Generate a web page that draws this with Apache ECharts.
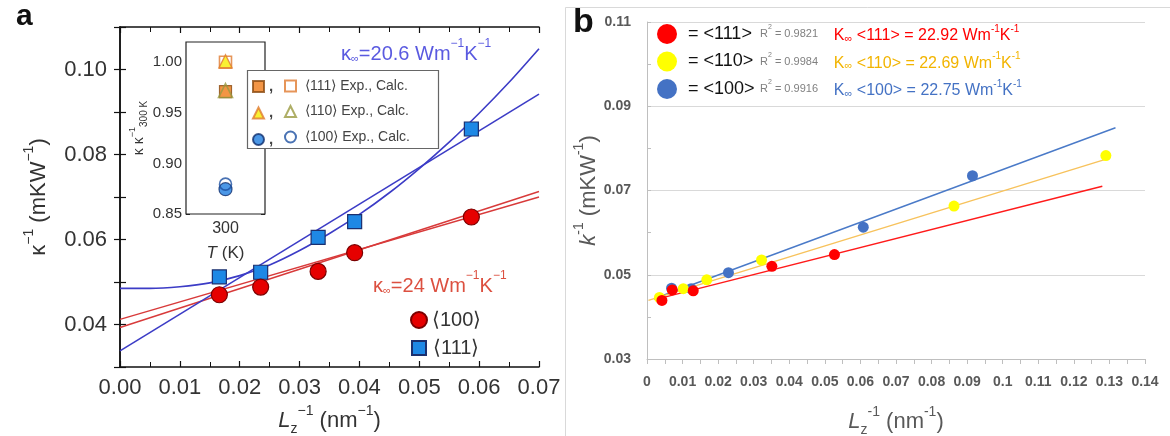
<!DOCTYPE html>
<html><head><meta charset="utf-8">
<script src="https://cdn.jsdelivr.net/npm/echarts@6/dist/echarts.min.js"></script>
<style>html,body{margin:0;padding:0;background:#fff}#c{width:1170px;height:436px}</style>
</head><body><div id="c"></div>
<script>
// ---------- Panel a data ----------
const aX = [0.0166, 0.0235, 0.0331, 0.0392, 0.0587];
const a100Y = [0.0470, 0.0488, 0.0525, 0.0569, 0.0653];
const a111Y = [0.0512, 0.0523, 0.0605, 0.0642, 0.0860];
const aRedFitA = [[0, 0.0412], [0.07, 0.0700]];
const aRedFitB = [[0, 0.0393], [0.07, 0.0713]];
const aBlueLine = [[0, 0.0338], [0.07, 0.0942]];
const aBlueCurveX = [0, 0.005, 0.010, 0.015, 0.020, 0.025, 0.030, 0.035, 0.040, 0.045, 0.050, 0.055, 0.060, 0.065, 0.070];
const aBlueCurveY = [0.0485, 0.0485, 0.0489, 0.0498, 0.0515, 0.0540, 0.0574, 0.0614, 0.0659, 0.0710, 0.0767, 0.0829, 0.0897, 0.0970, 0.1049];
const aXTicks = [0, 0.07, 0.01];      // min, max, interval
const aYTicks = [0.03, 0.11, 0.01];

// ---------- Inset data ----------
const insetCats = ['300'];
const in111Exp = [0.971];
const in111Calc = [1.000];
const in110Exp = [1.001];
const in110Calc = [0.972];
const in100Exp = [0.8745];
const in100Calc = [0.8795];
const insetYTicks = [0.85, 1.02, 0.05];

// ---------- Panel b data ----------
const b111X = [0.0042, 0.0071, 0.0130, 0.0351, 0.0527];
const b111Y = [0.0439, 0.0464, 0.0462, 0.0520, 0.0548];
const b110X = [0.0035, 0.0102, 0.0168, 0.0322, 0.0863, 0.1290];
const b110Y = [0.0446, 0.0467, 0.0488, 0.0535, 0.0663, 0.0783];
const b100X = [0.0069, 0.0124, 0.0229, 0.0608, 0.0915];
const b100Y = [0.0468, 0.0467, 0.0505, 0.0613, 0.0735];
const b111Fit = [[0.0022, 0.0441], [0.128, 0.0710]];
const b110Fit = [[0.0004, 0.0439], [0.130, 0.0777]];
const b100Fit = [[0.0020, 0.0443], [0.1317, 0.0849]];
const bR2 = {b111: '0.9821', b110: '0.9984', b100: '0.9916'};
const bKinf = {b111: '22.92', b110: '22.69', b100: '22.75'};
const bXTicks = [0, 0.14, 0.01];
const bYTicks = [0.03, 0.11, 0.01];

const zip = (xs, ys) => xs.map((x, i) => [x, ys[i]]);
const FA = "'Liberation Sans', Arial, sans-serif";
const FB = "'Liberation Sans', Arial, sans-serif";
const near = (v, step) => Math.abs(v / step - Math.round(v / step)) < 1e-6;

const chart = echarts.init(document.getElementById('c'), null, {width: 1170, height: 436});

const axA = '#111';
const tickA = {show: true, inside: true, length: 6, lineStyle: {color: axA, width: 1.2}};

const richA = {
  t: {fontSize: 22, fontFamily: FA, color: '#333', lineHeight: 28, verticalAlign: 'bottom'},
  i: {fontSize: 22, fontFamily: FA, color: '#333', fontStyle: 'italic', lineHeight: 28, verticalAlign: 'bottom'},
  u: {fontSize: 14, fontFamily: FA, color: '#333', lineHeight: 14, verticalAlign: 'top'},
  s: {fontSize: 14, fontFamily: FA, color: '#333', lineHeight: 14, verticalAlign: 'bottom', padding: [0, 0, -4, 0]}
};
const richIn = {
  t: {fontSize: 14, fontFamily: FA, color: '#333', lineHeight: 18, verticalAlign: 'bottom'},
  i: {fontSize: 17, fontFamily: FA, color: '#333', fontStyle: 'italic', lineHeight: 20},
  r: {fontSize: 17, fontFamily: FA, color: '#333', lineHeight: 20},
  u: {fontSize: 9, fontFamily: FA, color: '#333', lineHeight: 9, verticalAlign: 'top'},
  s: {fontSize: 10, fontFamily: FA, color: '#333', lineHeight: 10, verticalAlign: 'bottom', padding: [0, 0, -3, 0]}
};
const richB = {
  t: {fontSize: 22, fontFamily: FA, color: '#595959', lineHeight: 28, verticalAlign: 'bottom'},
  i: {fontSize: 22, fontFamily: FA, color: '#595959', fontStyle: 'italic', lineHeight: 28, verticalAlign: 'bottom'},
  u: {fontSize: 14, fontFamily: FA, color: '#595959', lineHeight: 14, verticalAlign: 'top'},
  s: {fontSize: 14, fontFamily: FA, color: '#595959', lineHeight: 14, verticalAlign: 'bottom', padding: [0, 0, -4, 0]}
};

const bColors = {b111: '#ff0000', b110: '#f2b400', b100: '#4472c4'};
const bRich = {
  n: {fontSize: 18, fontFamily: FA, color: '#111', width: 72, padding: [0, 0, 0, 6], lineHeight: 20},
  r: {fontSize: 11, fontFamily: FA, color: '#808080', lineHeight: 20},
  r2: {fontSize: 11, fontFamily: FA, color: '#808080', lineHeight: 20, width: 62},
  ru: {fontSize: 7, fontFamily: FA, color: '#808080', verticalAlign: 'top', lineHeight: 12}
};
['b111', 'b110', 'b100'].forEach(k => {
  bRich['k' + k] = {fontSize: 16, fontFamily: FB, color: bColors[k], lineHeight: 20, verticalAlign: 'bottom'};
  bRich['s' + k] = {fontSize: 11, fontFamily: FB, color: bColors[k], lineHeight: 11, verticalAlign: 'bottom'};
  bRich['u' + k] = {fontSize: 10, fontFamily: FB, color: bColors[k], lineHeight: 10, verticalAlign: 'top'};
});
const bLabel = {b111: '<111>', b110: '<110>', b100: '<100>'};
const GB = {outerBoundsMode: 'none', containLabel: false};

const option = {
  animation: false,
  backgroundColor: '#fff',
  grid: [
    Object.assign({left: 120, top: 27, width: 419, height: 340, show: false}, GB),
    Object.assign({left: 186, top: 42, width: 79, height: 172, show: true, borderColor: '#222', borderWidth: 1.2, backgroundColor: '#fff', z: 1}, GB),
    Object.assign({left: 647, top: 22, width: 498, height: 337, show: false}, GB)
  ],
  xAxis: [
    {gridIndex: 0, type: 'value', min: aXTicks[0], max: aXTicks[1], interval: aXTicks[2],
     axisLine: {lineStyle: {color: axA, width: 1.5}}, axisTick: tickA,
     minorTick: {show: true, splitNumber: 2, length: 5, lineStyle: {color: axA, width: 1}},
     splitLine: {show: false},
     axisLabel: {fontSize: 22, fontFamily: FA, color: '#333', margin: 10, formatter: v => v.toFixed(2)},
     name: '{i|L}{s|z}{u|−1}{t| (nm}{u|−1}{t|)}', nameLocation: 'middle', nameGap: 37,
     nameTextStyle: {rich: richA}},
    {gridIndex: 0, type: 'value', position: 'top', min: aXTicks[0], max: aXTicks[1], interval: aXTicks[2],
     axisLine: {lineStyle: {color: axA, width: 1.5}}, axisTick: tickA,
     minorTick: {show: true, splitNumber: 2, length: 5, lineStyle: {color: axA, width: 1}},
     splitLine: {show: false}, axisLabel: {show: false}},
    {gridIndex: 1, type: 'category', data: insetCats, boundaryGap: true,
     axisLine: {show: false}, axisTick: {show: true, inside: true, alignWithLabel: true, length: 4, lineStyle: {color: '#222'}},
     axisLabel: {fontSize: 16, fontFamily: FA, color: '#333', margin: 7},
     name: '{i|T}{r| (K)}', nameLocation: 'middle', nameGap: 29, nameTextStyle: {rich: richIn}},
    {gridIndex: 1, type: 'category', data: insetCats, boundaryGap: true, position: 'top',
     axisLine: {show: false}, axisTick: {show: true, inside: true, alignWithLabel: true, length: 4, lineStyle: {color: '#222'}},
     axisLabel: {show: false}},
    {gridIndex: 2, type: 'value', min: bXTicks[0], max: bXTicks[1], interval: bXTicks[2],
     axisLine: {lineStyle: {color: '#bfbfbf', width: 1}},
     axisTick: {show: true, inside: false, length: 5, lineStyle: {color: '#bfbfbf'}},
     minorTick: {show: true, splitNumber: 2, length: 5, lineStyle: {color: '#bfbfbf'}},
     splitLine: {show: false},
     axisLabel: {fontSize: 14, fontWeight: 'bold', fontFamily: FA, color: '#595959', margin: 16,
                 formatter: v => String(parseFloat(v.toFixed(2)))},
     name: '{i|L}{s|z}{u|-1}{t| (nm}{u|-1}{t|)}', nameLocation: 'middle', nameGap: 46,
     nameTextStyle: {rich: richB}}
  ],
  yAxis: [
    {gridIndex: 0, type: 'value', min: aYTicks[0], max: aYTicks[1], interval: aYTicks[2],
     axisLine: {show: true, lineStyle: {color: axA, width: 1.5}}, axisTick: tickA, splitLine: {show: false},
     axisLabel: {fontSize: 22, fontFamily: FA, color: '#333', margin: 13,
                 formatter: v => near(v, 0.02) ? v.toFixed(2) : ''},
     name: '{t|κ}{u|−1}{t| (mKW}{u|−1}{t|)}', nameLocation: 'middle', nameGap: 70, nameRotate: 90,
     nameTextStyle: {rich: richA}},
    {gridIndex: 0, type: 'value', position: 'right', min: aYTicks[0], max: aYTicks[1], interval: aYTicks[2],
     axisLine: {show: true, lineStyle: {color: axA, width: 1.5}}, axisTick: tickA, splitLine: {show: false},
     axisLabel: {show: false}},
    {gridIndex: 1, type: 'value', min: insetYTicks[0], max: insetYTicks[1], interval: insetYTicks[2],
     axisLine: {show: false}, axisTick: {show: true, inside: true, length: 4, lineStyle: {color: '#222'}},
     splitLine: {show: false},
     axisLabel: {fontSize: 15, fontFamily: FA, color: '#333', margin: 4,
                 formatter: v => near(v, 0.05) ? v.toFixed(2) : ''},
     name: '{t|κ κ}{u|−1}{s|300 K}', nameLocation: 'middle', nameGap: 36, nameRotate: 90,
     nameTextStyle: {rich: richIn}},
    {gridIndex: 1, type: 'value', position: 'right', min: insetYTicks[0], max: insetYTicks[1], interval: insetYTicks[2],
     axisLine: {show: false}, axisTick: {show: true, inside: true, length: 4, lineStyle: {color: '#222'}},
     splitLine: {show: false}, axisLabel: {show: false}},
    {gridIndex: 2, type: 'value', min: bYTicks[0], max: bYTicks[1], interval: bYTicks[2],
     axisLine: {show: true, lineStyle: {color: '#bfbfbf', width: 1}},
     axisTick: {show: true, inside: true, length: 4, lineStyle: {color: '#bfbfbf'}},
     splitLine: {show: true, lineStyle: {color: ['#d9d9d9', 'rgba(0,0,0,0)'], width: 1}},
     axisLabel: {fontSize: 14, fontWeight: 'bold', fontFamily: FA, color: '#595959', margin: 16,
                 formatter: v => near(v - 0.01, 0.02) ? String(parseFloat(v.toFixed(2))) : ''},
     name: '{i|k}{u|-1}{t| (mKW}{u|-1}{t|)}', nameLocation: 'middle', nameGap: 44, nameRotate: 90,
     nameTextStyle: {rich: richB}}
  ],
  legend: [
    {left: 410, top: 310, padding: 0, orient: 'vertical', itemWidth: 16, itemHeight: 16, selectedMode: false,
     data: [{name: 'a100', icon: 'circle'}], formatter: () => '⟨100⟩',
     textStyle: {fontSize: 20, fontFamily: FA, color: '#333', lineHeight: 16}},
    {left: 411, top: 338, padding: 0, orient: 'vertical', itemWidth: 14, itemHeight: 14, selectedMode: false,
     data: [{name: 'a111', icon: 'rect'}], formatter: () => '⟨111⟩',
     textStyle: {fontSize: 20, fontFamily: FA, color: '#333', lineHeight: 14, padding: [0, 0, 0, 2]}},
    {left: 657, top: 24, padding: 0, orient: 'vertical', itemWidth: 20, itemHeight: 20, itemGap: 7.5, selectedMode: false,
     data: [{name: 'b111', icon: 'circle'}, {name: 'b110', icon: 'circle'}, {name: 'b100', icon: 'circle'}],
     formatter: n => '{n|= ' + bLabel[n] + '}{r|R}{ru|2}{r2| = ' + bR2[n] + '}' +
        '{k' + n + '|K}{s' + n + '|∞}{k' + n + '| ' + bLabel[n] + ' = ' + bKinf[n] + ' Wm}{u' + n + '|-1}{k' + n + '|K}{u' + n + '|-1}',
     textStyle: {rich: bRich}},
    {left: 252, top: 79, padding: 0, orient: 'vertical', itemWidth: 11, itemHeight: 11, itemGap: 11.5, selectedMode: false, z: 6,
     data: [{name: 'i111e', icon: 'rect'}, {name: 'i110e', icon: 'triangle'}, {name: 'i100e', icon: 'circle'}],
     formatter: () => ',', textStyle: {fontSize: 15, fontWeight: 'bold', fontFamily: FA, color: '#444', lineHeight: 11}},
    {left: 284, top: 79, padding: 0, orient: 'vertical', itemWidth: 11, itemHeight: 11, itemGap: 11.5, selectedMode: false, z: 6,
     data: [{name: 'i111c', icon: 'rect'}, {name: 'i110c', icon: 'triangle'}, {name: 'i100c', icon: 'circle'}],
     formatter: n => n === 'i111c' ? '⟨111⟩ Exp., Calc.' : (n === 'i110c' ? '⟨110⟩ Exp., Calc.' : '⟨100⟩ Exp., Calc.'),
     textStyle: {fontSize: 14, fontFamily: FA, color: '#444', lineHeight: 11, padding: [0, 0, 0, 4]}}
  ],
  graphic: [
    {type: 'text', left: 16, top: 2, style: {text: 'a', font: 'bold 30px ' + FA, fill: '#111'}},
    {type: 'text', left: 573, top: 6, style: {text: 'b', font: 'bold 34px ' + FA, fill: '#111'}},
    {type: 'line', shape: {x1: 565.5, y1: 7.5, x2: 1170, y2: 7.5}, style: {stroke: '#d9d9d9', lineWidth: 1}},
    {type: 'line', shape: {x1: 565.5, y1: 7.5, x2: 565.5, y2: 436}, style: {stroke: '#d9d9d9', lineWidth: 1}},
    {type: 'rect', z: 5, shape: {x: 247.5, y: 70.5, width: 191, height: 78},
     style: {fill: '#fff', stroke: '#666', lineWidth: 1.2}},
    {type: 'text', left: 341, top: 38, z: 5, style: {
      text: '{k|κ}{s|∞}{t|=20.6 Wm}{u|−1}{t|K}{u|−1}',
      rich: {
        k: {fontSize: 20, fontFamily: FA, fill: '#5a5ae0', lineHeight: 26, verticalAlign: 'bottom'},
        t: {fontSize: 20, fontFamily: FA, fill: '#5a5ae0', lineHeight: 26, verticalAlign: 'bottom'},
        s: {fontSize: 11, fontFamily: FA, fill: '#5a5ae0', lineHeight: 11, verticalAlign: 'bottom'},
        u: {fontSize: 12, fontFamily: FA, fill: '#5a5ae0', lineHeight: 12, verticalAlign: 'top'}
      }}},
    {type: 'text', left: 373, top: 270, z: 5, style: {
      text: '{k|κ}{s|∞}{t|=24 Wm}{u|−1}{t|K}{u|−1}',
      rich: {
        k: {fontSize: 20, fontFamily: FA, fill: '#dc5040', lineHeight: 26, verticalAlign: 'bottom'},
        t: {fontSize: 20, fontFamily: FA, fill: '#dc5040', lineHeight: 26, verticalAlign: 'bottom'},
        s: {fontSize: 11, fontFamily: FA, fill: '#dc5040', lineHeight: 11, verticalAlign: 'bottom'},
        u: {fontSize: 12, fontFamily: FA, fill: '#dc5040', lineHeight: 12, verticalAlign: 'top'}
      }}}
  ],
  series: [
    // panel a lines
    {name: 'aRedFitA', type: 'line', xAxisIndex: 0, yAxisIndex: 0, data: aRedFitA, symbol: 'none', silent: true,
     lineStyle: {color: '#d83a3a', width: 1.4}},
    {name: 'aRedFitB', type: 'line', xAxisIndex: 0, yAxisIndex: 0, data: aRedFitB, symbol: 'none', silent: true,
     lineStyle: {color: '#d83a3a', width: 1.4}},
    {name: 'aBlueLine', type: 'line', xAxisIndex: 0, yAxisIndex: 0, data: aBlueLine, symbol: 'none', silent: true,
     lineStyle: {color: '#3c3cc6', width: 1.6}},
    {name: 'aBlueCurve', type: 'line', xAxisIndex: 0, yAxisIndex: 0, data: zip(aBlueCurveX, aBlueCurveY),
     symbol: 'none', smooth: 0.3, silent: true, lineStyle: {color: '#3c3cc6', width: 1.6}},
    {name: 'a111', type: 'scatter', xAxisIndex: 0, yAxisIndex: 0, data: zip(aX, a111Y), symbol: 'rect', symbolSize: 14,
     itemStyle: {color: '#1e88e5', borderColor: '#1b2f6e', borderWidth: 1.2, opacity: 1}, z: 3},
    {name: 'a100', type: 'scatter', xAxisIndex: 0, yAxisIndex: 0, data: zip(aX, a100Y), symbol: 'circle', symbolSize: 16,
     itemStyle: {color: '#e60000', borderColor: '#7a0000', borderWidth: 1.2, opacity: 1}, z: 3},
    // inset
    {name: 'i111c', type: 'scatter', xAxisIndex: 2, yAxisIndex: 2, data: in111Calc, symbol: 'rect', symbolSize: 12,
     itemStyle: {color: 'rgba(0,0,0,0)', borderColor: '#e07b30', borderWidth: 1.6}, z: 3},
    {name: 'i110e', type: 'scatter', xAxisIndex: 2, yAxisIndex: 2, data: in110Exp, symbol: 'triangle', symbolSize: 13,
     itemStyle: {color: '#f7ee00', borderColor: '#e07b30', borderWidth: 1.4}, z: 3},
    {name: 'i111e', type: 'scatter', xAxisIndex: 2, yAxisIndex: 2, data: in111Exp, symbol: 'rect', symbolSize: 12,
     itemStyle: {color: '#f07a16', borderColor: '#8a4a10', borderWidth: 1.2}, z: 3},
    {name: 'i110c', type: 'scatter', xAxisIndex: 2, yAxisIndex: 2, data: in110Calc, symbol: 'triangle', symbolSize: 14,
     itemStyle: {color: 'rgba(0,0,0,0)', borderColor: '#9a9a40', borderWidth: 1.6}, z: 3},
    {name: 'i100e', type: 'scatter', xAxisIndex: 2, yAxisIndex: 2, data: in100Exp, symbol: 'circle', symbolSize: 13,
     itemStyle: {color: '#1e7de0', borderColor: '#12306e', borderWidth: 1.2}, z: 3},
    {name: 'i100c', type: 'scatter', xAxisIndex: 2, yAxisIndex: 2, data: in100Calc, symbol: 'circle', symbolSize: 12,
     itemStyle: {color: 'rgba(0,0,0,0)', borderColor: '#1c4fa0', borderWidth: 1.6}, z: 3},
    // panel b
    {name: 'b100Fit', type: 'line', xAxisIndex: 4, yAxisIndex: 4, data: b100Fit, symbol: 'none', silent: true,
     lineStyle: {color: '#4a7ac8', width: 1.4}},
    {name: 'b110Fit', type: 'line', xAxisIndex: 4, yAxisIndex: 4, data: b110Fit, symbol: 'none', silent: true,
     lineStyle: {color: '#f7c25c', width: 1.4}},
    {name: 'b111Fit', type: 'line', xAxisIndex: 4, yAxisIndex: 4, data: b111Fit, symbol: 'none', silent: true,
     lineStyle: {color: '#ff1a1a', width: 1.4}},
    {name: 'b100', type: 'scatter', xAxisIndex: 4, yAxisIndex: 4, data: zip(b100X, b100Y), symbol: 'circle', symbolSize: 11,
     itemStyle: {color: '#4472c4', opacity: 1}, z: 3},
    {name: 'b110', type: 'scatter', xAxisIndex: 4, yAxisIndex: 4, data: zip(b110X, b110Y), symbol: 'circle', symbolSize: 11,
     itemStyle: {color: '#ffff00', opacity: 1}, z: 3},
    {name: 'b111', type: 'scatter', xAxisIndex: 4, yAxisIndex: 4, data: zip(b111X, b111Y), symbol: 'circle', symbolSize: 11,
     itemStyle: {color: '#ff0000', opacity: 1}, z: 3}
  ]
};
chart.setOption(option);
</script>
</body></html>
